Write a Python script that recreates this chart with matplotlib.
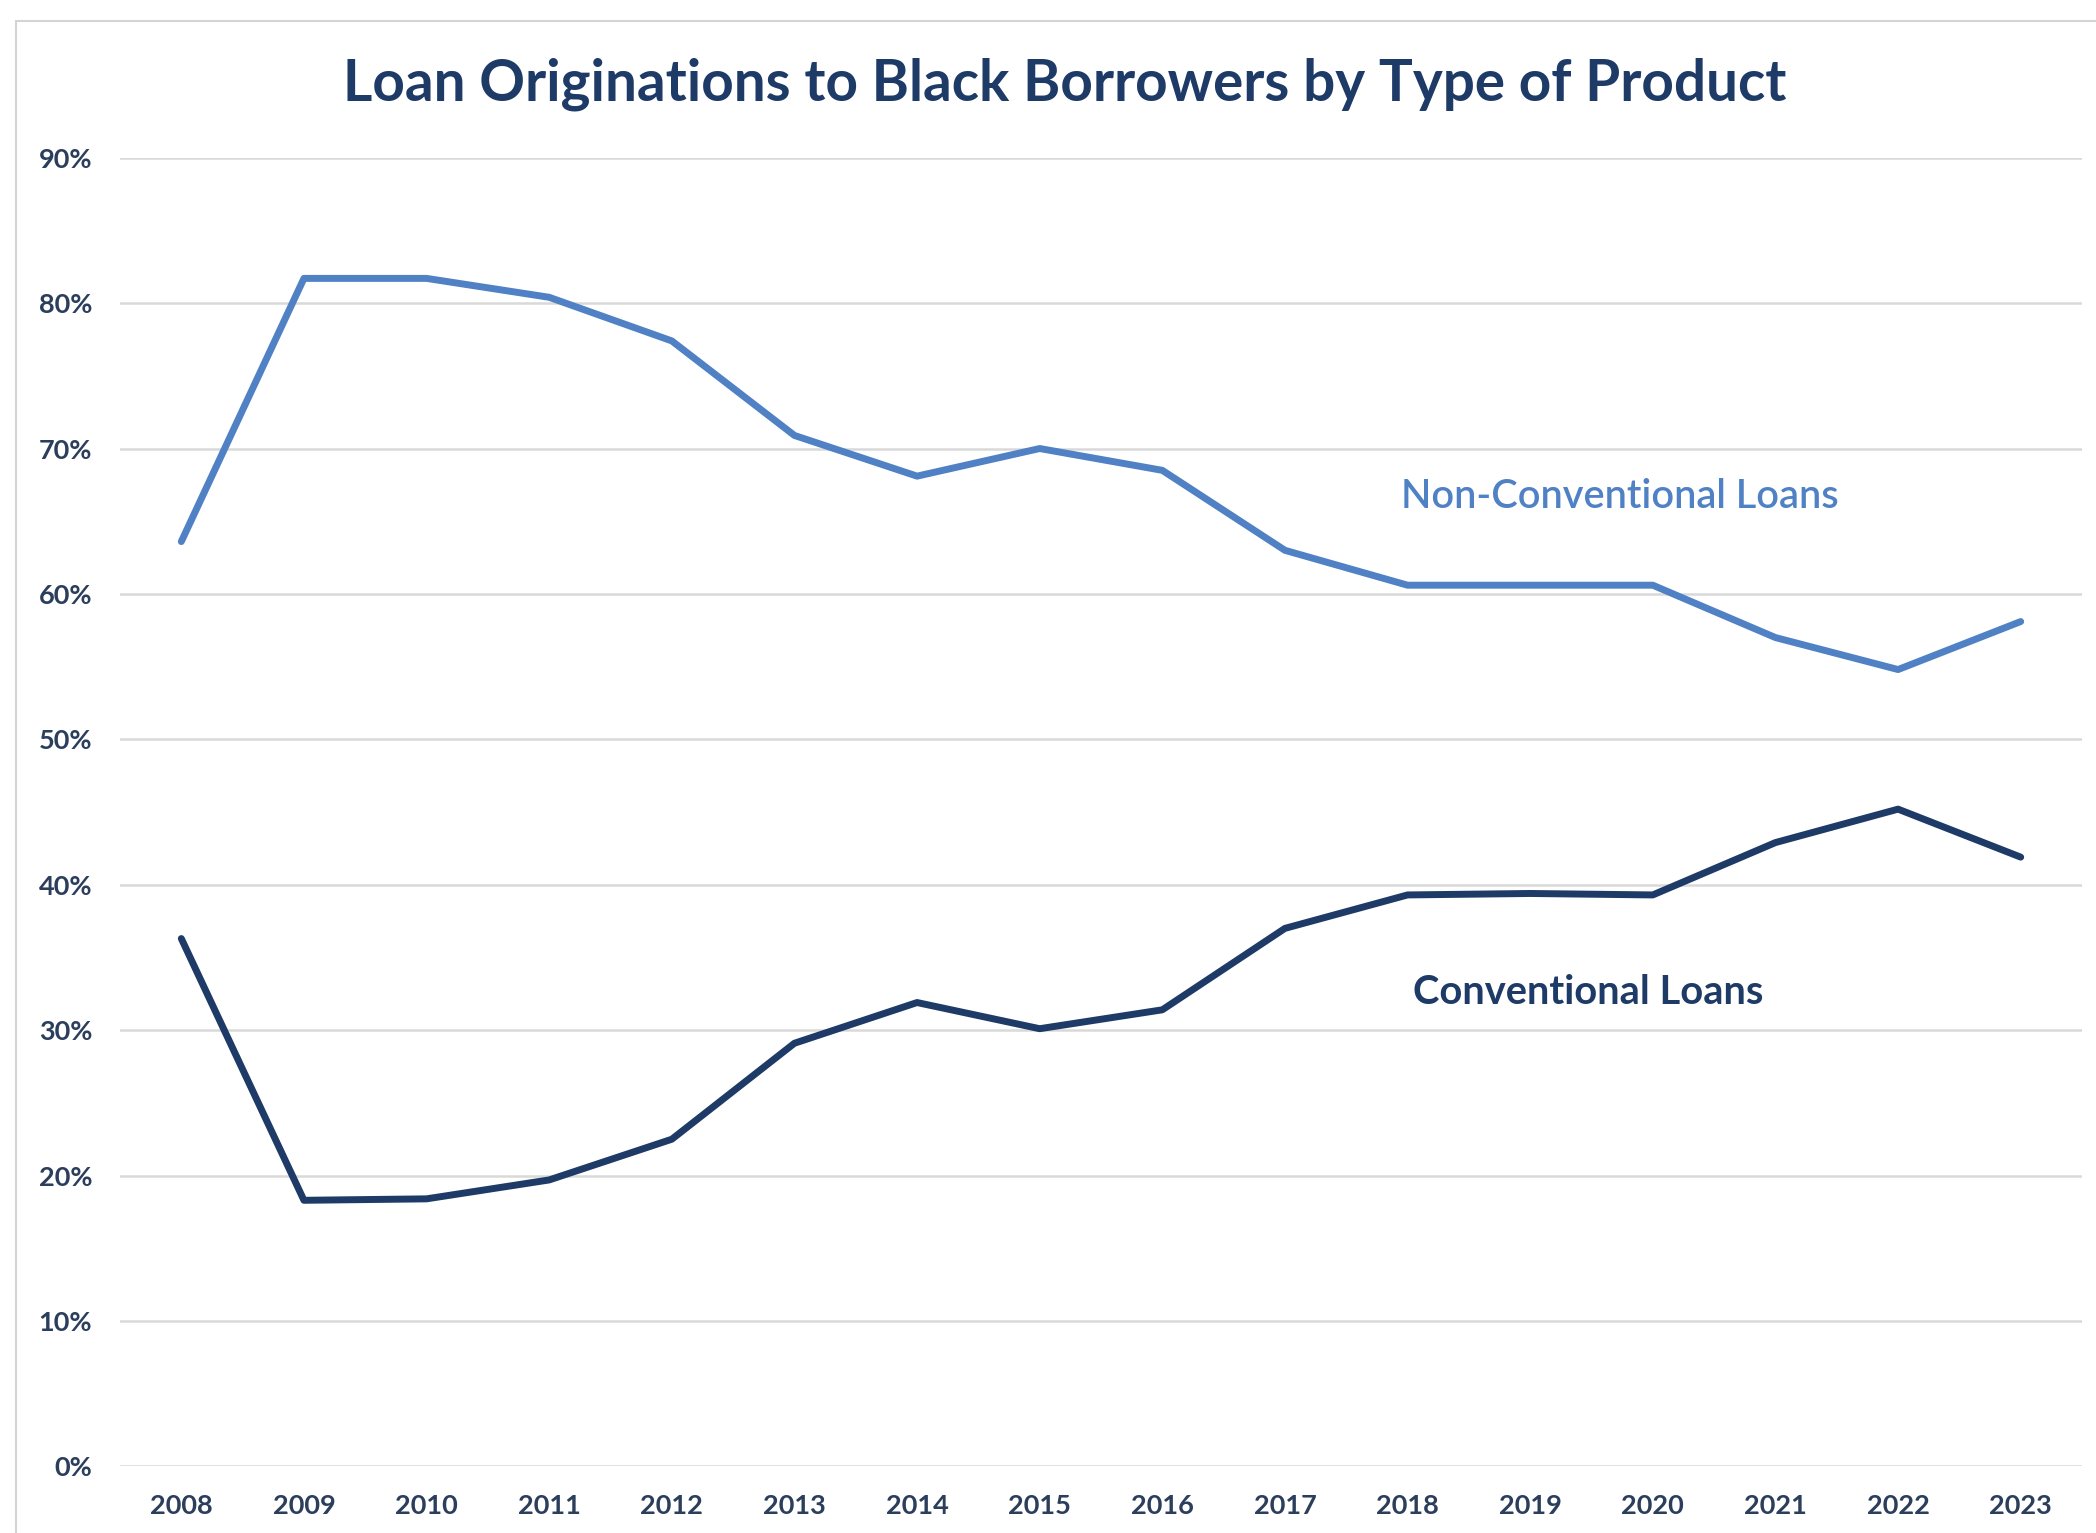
import matplotlib.pyplot as plt
from matplotlib.patches import Rectangle
from matplotlib.ticker import FuncFormatter

years = [str(y) for y in range(2008, 2024)]
non_conventional = [63.6, 81.7, 81.7, 80.4, 77.4, 70.9, 68.1, 70.0,
                    68.5, 63.0, 60.6, 60.6, 60.6, 57.0, 54.8, 58.1]
conventional = [36.3, 18.3, 18.4, 19.7, 22.5, 29.1, 31.9, 30.1,
                31.4, 37.0, 39.3, 39.4, 39.3, 42.9, 45.2, 41.9]

LIGHT = '#4F81C4'
DARK = '#1E3A66'
TICK = '#2B3E5C'


def main():
    plt.rcParams['font.family'] = ['Lato', 'DejaVu Sans']
    fig = plt.figure(figsize=(20.96, 15.33), dpi=100)
    fig.patch.set_facecolor('white')

    # thin frame around the chart area
    fig.patches.append(Rectangle((16 / 2096, -0.05), 1.2, 1 - 21 / 1533 + 0.05,
                                 transform=fig.transFigure, fill=False,
                                 edgecolor='#D4D4D4', linewidth=1.5))

    ax = fig.add_axes([120 / 2096, 1 - 1466.4 / 1533,
                       (2082 - 120) / 2096, (1466.4 - 157.7) / 1533])
    x = range(len(years))
    ax.plot(x, non_conventional, color=LIGHT, linewidth=5,
            solid_joinstyle='round', solid_capstyle='round', zorder=3)
    ax.plot(x, conventional, color=DARK, linewidth=5,
            solid_joinstyle='round', solid_capstyle='round', zorder=3)

    ax.set_xlim(-0.5, len(years) - 0.5)
    ax.set_ylim(0, 90)
    ax.set_yticks(range(0, 91, 10))
    ax.yaxis.set_major_formatter(FuncFormatter(lambda v, p: f'{v:.0f}%'))
    ax.set_xticks(list(x))
    ax.set_xticklabels(years)
    ax.grid(axis='y', color='#D9D9D9', linewidth=1.8)
    ax.set_axisbelow(True)
    for s in ax.spines.values():
        s.set_visible(False)
    ax.tick_params(length=0, labelsize=19.5, labelcolor=TICK)
    ax.tick_params(axis='y', pad=20)
    ax.tick_params(axis='x', pad=20)
    for lbl in ax.get_xticklabels() + ax.get_yticklabels():
        lbl.set_fontweight('bold')

    ax.text(11.73, 66.7, 'Non-Conventional Loans', color=LIGHT,
            fontsize=28.6, fontweight='semibold', ha='center', va='center')
    ax.text(11.47, 32.6, 'Conventional Loans', color=DARK,
            fontsize=28.7, fontweight='bold', ha='center', va='center')

    fig.text(1065 / 2096, 1 - 84 / 1533,
             'Loan Originations to Black Borrowers by Type of Product',
             color=DARK, fontsize=40.8, fontweight='bold',
             ha='center', va='center')

    fig.savefig('out.png', dpi=100)


if __name__ == '__main__':
    main()
